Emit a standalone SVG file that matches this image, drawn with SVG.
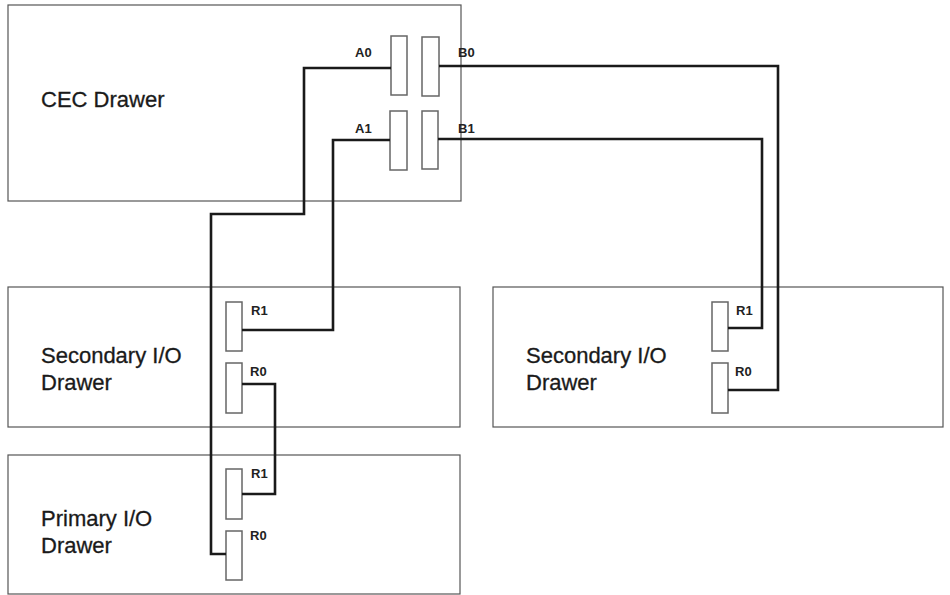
<svg xmlns="http://www.w3.org/2000/svg" width="950" height="595" viewBox="0 0 950 595">
<style>
.box{fill:#fff;stroke:#555;stroke-width:1.2}
.port{fill:#fff;stroke:#666;stroke-width:1.5}
.big{font-family:"Liberation Sans",Arial,sans-serif;font-size:22px;fill:#1a1a1a;stroke:#1a1a1a;stroke-width:0.3}
.sm{font-family:"Liberation Sans",Arial,sans-serif;font-size:13px;font-weight:bold;fill:#222}
.cable{fill:none;stroke:#1a1a1a;stroke-width:2.6}
</style>
<rect width="950" height="595" fill="#fff"/>
<g id="cec">
<rect class="box" x="8" y="5" width="453" height="196"/>
<text class="big" x="41" y="107">CEC Drawer</text>
<rect class="port" x="391" y="36" width="16" height="59"/>
<rect class="port" x="422" y="37" width="17" height="59"/>
<rect class="port" x="390" y="111" width="17" height="59"/>
<rect class="port" x="422" y="111" width="16" height="58"/>
<text class="sm" x="355" y="57">A0</text>
<text class="sm" x="355" y="133">A1</text>
<text class="sm" x="458" y="57">B0</text>
<text class="sm" x="458" y="133">B1</text>
</g>
<g id="sec-left">
<rect class="box" x="8" y="287" width="452" height="140"/>
<text class="big" x="41" y="363">Secondary I/O</text>
<text class="big" x="41" y="390">Drawer</text>
<rect class="port" x="226" y="302" width="16" height="49"/>
<rect class="port" x="226" y="363" width="16" height="50"/>
<text class="sm" x="251" y="315">R1</text>
<text class="sm" x="250" y="376">R0</text>
</g>
<g id="primary">
<rect class="box" x="8" y="455" width="452" height="139"/>
<text class="big" x="41" y="526">Primary I/O</text>
<text class="big" x="41" y="553">Drawer</text>
<rect class="port" x="226" y="469" width="16" height="50"/>
<rect class="port" x="226" y="531" width="16" height="49"/>
<text class="sm" x="251" y="478">R1</text>
<text class="sm" x="250" y="540">R0</text>
</g>
<g id="sec-right">
<rect class="box" x="493" y="287" width="450" height="140"/>
<text class="big" x="526" y="363">Secondary I/O</text>
<text class="big" x="526" y="390">Drawer</text>
<rect class="port" x="712" y="302" width="16" height="49"/>
<rect class="port" x="712" y="363" width="16" height="50"/>
<text class="sm" x="736" y="315">R1</text>
<text class="sm" x="735" y="376">R0</text>
</g>
<g id="connectors">
<polyline class="cable" points="391,68 304,68 304,214 211,214 211,554 226,554"/>
<polyline class="cable" points="390,140 333,140 333,330 242,330"/>
<polyline class="cable" points="242,384 275,384 275,494 242,494"/>
<polyline class="cable" points="439,66 778,66 778,390 728,390"/>
<polyline class="cable" points="438,139 762,139 762,328 728,328"/>
</g>
</svg>
